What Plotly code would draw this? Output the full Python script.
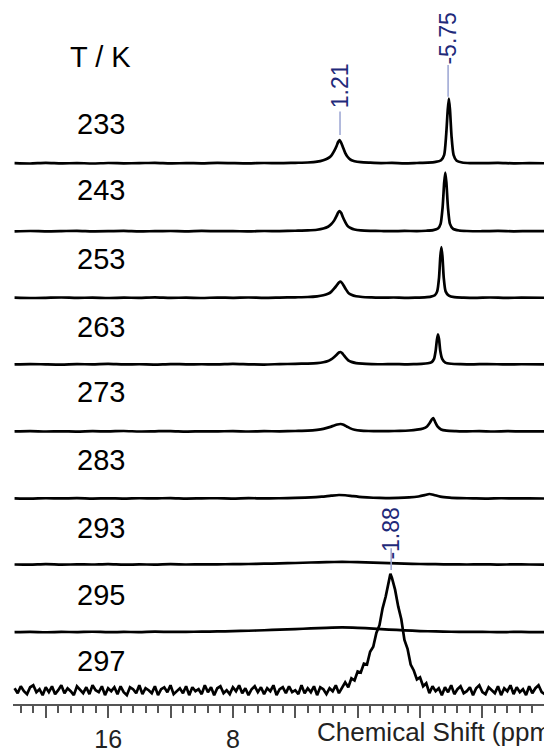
import plotly.graph_objects as go

# ---------------- data (ppm vs. intensity, arbitrary units) ----------------
temps = ["233", "243", "253", "263", "273", "283", "293", "295", "297"]

x233 = [22, 21, 20, 19, 18, 17, 16, 15, 14, 13, 12, 11, 10, 9, 8, 7, 6, 5, 4,
        3.2, 2.6, 2.2, 1.9, 1.7, 1.5, 1.35, 1.25, 1.16, 1.05, 0.95, 0.8, 0.65, 0.45, 0.2,
        -0.2, -0.8, -1.5, -2.2, -3, -3.8, -4.5, -5.0, -5.35, -5.55, -5.68, -5.78, -5.85,
        -5.92, -6.02, -6.15, -6.35, -6.7, -7.2, -8, -9, -10, -11, -12]
y233 = [0.5, 0.2, 0.8, 0.3, 0.6, 0.2, 0.7, 0.4, 0.5, 0.9, 0.3, 0.6, 0.4, 0.8, 0.5, 0.3, 0.7, 0.5, 0.9,
        1.2, 2, 3.5, 5.5, 8, 13, 18, 22, 24, 21, 17, 11, 7, 4, 2.5,
        1.5, 1, 0.6, 0.8, 0.4, 0.7, 1, 1.8, 3.5, 9, 30, 55, 66,
        55, 28, 9, 3, 1.2, 0.6, 0.5, 0.8, 0.3, 0.6, 0.4]

x243 = [22, 21, 20, 19, 18, 17, 16, 15, 14, 13, 12, 11, 10, 9, 8, 7, 6, 5, 4,
        3.2, 2.6, 2.2, 1.9, 1.7, 1.5, 1.35, 1.25, 1.16, 1.05, 0.95, 0.8, 0.65, 0.45, 0.2,
        -0.2, -0.8, -1.5, -2.2, -3, -3.8, -4.4, -4.85, -5.15, -5.32, -5.45, -5.55, -5.62,
        -5.69, -5.79, -5.92, -6.12, -6.5, -7, -8, -9, -10, -11, -12]
y243 = [0.3, 0.7, 0.4, 0.6, 0.9, 0.4, 0.5, 0.8, 0.3, 0.6, 0.7, 0.4, 0.8, 0.5, 0.6, 0.3, 0.7, 0.6, 1.0,
        1.3, 2, 3.2, 5, 7.5, 11.5, 16, 19.5, 21, 19, 15, 10, 6, 3.8, 2.3,
        1.4, 0.9, 0.7, 0.5, 0.8, 0.6, 1, 1.6, 3.2, 8, 25, 50, 60,
        50, 25, 8, 2.8, 1.2, 0.7, 0.5, 0.8, 0.4, 0.6, 0.5]

x253 = [22, 21, 20, 19, 18, 17, 16, 15, 14, 13, 12, 11, 10, 9, 8, 7, 6, 5, 4,
        3.2, 2.6, 2.2, 1.9, 1.7, 1.5, 1.3, 1.2, 1.1, 1.0, 0.9, 0.75, 0.6, 0.4, 0.1,
        -0.3, -0.9, -1.6, -2.3, -3, -3.7, -4.3, -4.7, -4.95, -5.1, -5.22, -5.3, -5.37,
        -5.44, -5.52, -5.64, -5.85, -6.2, -6.8, -7.6, -8.5, -9.5, -10.5, -12]
y253 = [0.6, 0.3, 0.5, 0.8, 0.4, 0.7, 0.3, 0.6, 0.5, 0.9, 0.4, 0.6, 0.3, 0.7, 0.5, 0.8, 0.4, 0.7, 1.0,
        1.3, 2, 3, 4.5, 6.5, 10, 14, 16, 17, 15.5, 13, 9, 5.5, 3.5, 2,
        1.3, 0.9, 0.6, 0.8, 0.5, 0.7, 1, 1.6, 3, 7, 21, 42, 52,
        42, 21, 7, 2.6, 1.1, 0.7, 0.5, 0.8, 0.4, 0.6, 0.5]

x263 = [22, 21, 20, 19, 18, 17, 16, 15, 14, 13, 12, 11, 10, 9, 8, 7, 6, 5, 4,
        3.2, 2.6, 2.2, 1.9, 1.7, 1.5, 1.3, 1.2, 1.1, 1.0, 0.9, 0.75, 0.6, 0.4, 0.1,
        -0.3, -0.9, -1.6, -2.3, -3, -3.6, -4.1, -4.5, -4.75, -4.9, -5.0, -5.08, -5.15,
        -5.22, -5.3, -5.42, -5.62, -6.0, -6.6, -7.4, -8.3, -9.5, -10.5, -12]
y263 = [0.4, 0.8, 0.5, 0.3, 0.7, 0.5, 0.9, 0.4, 0.6, 0.3, 0.8, 0.5, 0.6, 0.4, 0.9, 0.5, 0.3, 0.7, 1.0,
        1.3, 1.8, 2.6, 3.8, 5.5, 8, 11, 12.5, 13, 12, 10, 7, 4.5, 3, 1.8,
        1.2, 0.8, 0.6, 0.8, 0.5, 0.7, 1, 1.6, 2.8, 6, 14, 25, 31,
        26, 14, 6, 2.2, 1.1, 0.7, 0.5, 0.8, 0.4, 0.6, 0.5]

x273 = [22, 21, 20, 19, 18, 17, 16, 15, 14, 13, 12, 11, 10, 9, 8, 7, 6, 5, 4,
        3.2, 2.6, 2.2, 1.8, 1.5, 1.3, 1.1, 0.9, 0.7, 0.5, 0.2,
        -0.2, -0.7, -1.3, -2, -2.7, -3.3, -3.8, -4.2, -4.45, -4.62, -4.75, -4.85,
        -4.97, -5.12, -5.35, -5.7, -6.3, -7, -7.8, -8.7, -9.6, -10.5, -11.3, -12]
y273 = [0.5, 0.8, 0.4, 0.6, 0.3, 0.7, 0.5, 0.9, 0.4, 0.6, 0.8, 0.3, 0.6, 0.5, 0.8, 0.4, 0.7, 0.6, 0.9,
        1.2, 2, 3, 4.8, 6.5, 7.5, 8, 7.2, 5.5, 3.8, 2.2,
        1.3, 0.9, 0.7, 0.8, 1, 1.4, 2.2, 3.5, 5.5, 9, 12.5, 14,
        10, 5.5, 2.5, 1.3, 0.8, 0.5, 0.8, 0.4, 0.7, 0.5, 0.6, 0.5]

x283 = [22, 21, 20, 19, 18, 17, 16, 15, 14, 13, 12, 11, 10, 9, 8, 7, 6, 5, 4,
        3, 2.3, 1.7, 1.2, 0.8, 0.3, -0.3, -1, -1.8, -2.6, -3.3, -3.9,
        -4.3, -4.6, -4.9, -5.3, -5.9, -6.6, -7.4, -8.3, -9.2, -10.1, -11, -12]
y283 = [0.6, 0.3, 0.7, 0.5, 0.8, 0.4, 0.6, 0.3, 0.7, 0.5, 0.9, 0.4, 0.6, 0.7, 0.4, 0.8, 0.5, 0.7, 1.0,
        1.5, 2.3, 3.3, 4, 3.7, 2.8, 1.8, 1.2, 0.9, 1, 1.5, 2.5,
        3.8, 5, 4, 2.3, 1.3, 0.8, 0.6, 0.4, 0.7, 0.5, 0.6, 0.4]

x293 = [22, 21, 20, 19, 18, 17, 16, 15, 14, 13, 12, 11, 10, 9, 8, 7, 6, 5, 4,
        3, 2, 1, 0, -1, -2, -3, -4, -5, -6, -7, -8, -9, -10, -11, -12]
y293 = [0.5, 0.3, 0.8, 0.4, 0.6, 0.5, 0.9, 0.3, 0.6, 0.4, 0.8, 0.5, 0.7, 0.6, 0.9, 1.0, 1.3, 1.6, 2.0,
        2.5, 2.9, 3.1, 2.9, 2.4, 1.8, 1.3, 1.0, 0.8, 0.6, 0.5, 0.7, 0.4, 0.6, 0.5, 0.4]

x295 = [22, 21, 20, 19, 18, 17, 16, 15, 14, 13, 12, 11, 10, 9, 8, 7, 6, 5, 4,
        3, 2, 1, 0, -1, -2, -3, -4, -5, -6, -7, -8, -9, -10, -11, -12]
y295 = [0.4, 0.7, 0.3, 0.6, 0.5, 0.8, 0.4, 0.6, 0.5, 0.9, 0.6, 0.7, 0.9, 1.1, 1.4, 1.8, 2.3, 2.9, 3.5,
        4.2, 4.8, 5.2, 4.8, 4.0, 3.0, 2.2, 1.5, 1.1, 0.8, 0.6, 0.7, 0.4, 0.6, 0.5, 0.4]

x297 = [22.0, 21.8, 21.6, 21.4, 21.2, 21.0, 20.8, 20.6, 20.4, 20.2,
        20.0, 19.8, 19.6, 19.4, 19.2, 19.0, 18.8, 18.6, 18.4, 18.2,
        18.0, 17.8, 17.6, 17.4, 17.2, 17.0, 16.8, 16.6, 16.4, 16.2,
        16.0, 15.8, 15.6, 15.4, 15.2, 15.0, 14.8, 14.6, 14.4, 14.2,
        14.0, 13.8, 13.6, 13.4, 13.2, 13.0, 12.8, 12.6, 12.4, 12.2,
        12.0, 11.8, 11.6, 11.4, 11.2, 11.0, 10.8, 10.6, 10.4, 10.2,
        10.0, 9.8, 9.6, 9.4, 9.2, 9.0, 8.8, 8.6, 8.4, 8.2,
        8.0, 7.8, 7.6, 7.4, 7.2, 7.0, 6.8, 6.6, 6.4, 6.2,
        6.0, 5.8, 5.6, 5.4, 5.2, 5.0, 4.8, 4.6, 4.4, 4.2,
        4.0, 3.8, 3.6, 3.4, 3.2, 3.0, 2.8, 2.6, 2.4, 2.2,
        2.0, 1.8, 1.6, 1.4, 1.2,
        1.0, 0.8, 0.6, 0.4, 0.2, 0.0, -0.2, -0.4, -0.6, -0.8,
        -1.0, -1.2, -1.4, -1.6, -1.8, -2.0, -2.1, -2.2, -2.4, -2.6,
        -2.8, -3.0, -3.2, -3.4, -3.6, -3.8, -4.0, -4.2, -4.4,
        -4.6, -4.8, -5.0, -5.2, -5.4, -5.6, -5.8, -6.0, -6.2, -6.4,
        -6.6, -6.8, -7.0, -7.2, -7.4, -7.6, -7.8, -8.0, -8.2, -8.4,
        -8.6, -8.8, -9.0, -9.2, -9.4, -9.6, -9.8, -10.0, -10.2, -10.4,
        -10.6, -10.8, -11.0, -11.2, -11.4, -11.6, -11.8, -12.0]
y297 = [2, -3, 4, -1, -4, 3, 5, -2, 1, -5, 3, -2, 4, -4, 0,
        5, -3, 2, -1, -5, 4, 1, -3, 3, -4, 5, 0, -2, 4, -5,
        2, -1, 3, -4, 4, -2, -5, 3, 1, -3, 5, -4, 2, 0, -3,
        4, -5, 1, 3, -2, 5, -4, -1, 2, -3, 4, -5, 3, -1, 1,
        -4, 5, -2, 3, -5, 2, 4, -3, 0, -4, 3, -1, 5, -3, 2,
        -5, 1, 4, -2, 3, -4, 2, -1, 5, -5, 1, 3, -3, 4, -2,
        0, -4, 5, -3, 2, -2, 4, -5, 3, 1, -4, 2, -1, 5, -3,
        2, 8, 3, 12, 10, 19, 18, 27, 26, 39,
        44, 58, 66, 83, 95, 111, 118, 114, 102, 85,
        72, 51, 42, 26, 20, 11, 13, 4, 7,
        -3, 4, -1, 2, -5, 3, -2, 5, -4, 1,
        4, -3, -1, 3, -5, 2, 5, -2, -4, 3,
        0, -3, 4, -5, 2, -1, 5, -4, 3, -2,
        1, -5, 4, -3, 2, 5, -2, -4]

spectra = [(x233, y233), (x243, y243), (x253, y253), (x263, y263), (x273, y273),
           (x283, y283), (x293, y293), (x295, y295), (x297, y297)]
for xs, ys in spectra:
    assert len(xs) == len(ys), (len(xs), len(ys))

# peak annotations: label text and the shift at which the label is drawn
peak_labels = ["1.21", "-5.75", "-1.88"]
peak_label_ppm = [1.13, -5.80, -2.15]

# ---------------- layout helpers ----------------
W, H = 544, 753
PLOT_H = 715                       # plot area height in px (t=0, b=38)
row_base_px = [166, 235, 302.5, 370, 438, 506, 573, 641.5, 700]
row_label_px = [126, 193, 263, 332, 398, 467, 535, 603, 670]


def pap(px):
    return (PLOT_H - px) / PLOT_H


fig = go.Figure()
FONT = "Arial, Liberation Sans, sans-serif"

for i, (t, (xs, ys)) in enumerate(zip(temps, spectra)):
    suffix = "" if i == 0 else str(i + 1)
    base = row_base_px[i]
    fig.add_trace(go.Scatter(
        x=xs, y=ys, mode="lines",
        line=dict(color="black", width=2.7,
                  shape="linear" if t == "297" else "spline", smoothing=0.6),
        xaxis="x", yaxis="y" + suffix, showlegend=False, hoverinfo="skip"))
    fig.layout["yaxis" + suffix] = dict(
        domain=[max(0, pap(base + 12)), min(1, pap(base - 130))],
        range=[-12, 130], visible=False, fixedrange=True, anchor="x")
    fig.add_annotation(text=t, xref="paper", yref="paper",
                       x=(101 - 13) / 531, y=pap(row_label_px[i]),
                       xanchor="center", yanchor="middle", showarrow=False,
                       font=dict(family=FONT, size=29, color="black"))

fig.add_annotation(text="T / K", xref="paper", yref="paper",
                   x=(100 - 13) / 531, y=pap(58), xanchor="center", yanchor="middle",
                   showarrow=False, font=dict(family=FONT, size=29, color="black"))

# peak labels (rotated) and their guide lines
label_center_px = [87.5, 39, 541]
guide_px = [(113, 137), (66, 98), (556, 578)]
for lab, ppm, cy, (g0, g1) in zip(peak_labels, peak_label_ppm, label_center_px, guide_px):
    fig.add_annotation(text=lab, xref="x", yref="paper", x=ppm, y=pap(cy),
                       textangle=-90, xanchor="center", yanchor="middle", showarrow=False,
                       font=dict(family=FONT, size=23, color="#1F2A7A"))
    fig.add_shape(type="line", xref="x", yref="paper", x0=ppm, x1=ppm,
                  y0=pap(g0), y1=pap(g1), line=dict(color="#9AA4D2", width=1.5))

# axis title (partially cut by the right edge as in the original)
fig.add_annotation(text="Chemical Shift (ppm)", xref="paper", yref="paper",
                   x=(315 - 13) / 531, y=0, yshift=-27, xanchor="left", yanchor="middle",
                   showarrow=False, font=dict(family=FONT, size=26, color="#222"))

fig.update_layout(
    width=W, height=H, margin=dict(l=13, r=0, t=0, b=H - PLOT_H),
    paper_bgcolor="white", plot_bgcolor="rgba(0,0,0,0)", hovermode=False, showlegend=False,
    xaxis=dict(range=[22.1, -11.95], anchor="free", position=0,
               showline=True, linecolor="#555", linewidth=2,
               ticks="outside", ticklen=12, tickwidth=2, tickcolor="#555",
               tickmode="array", tickvals=[20, 16, 12, 8, 4, 0, -4, -8],
               ticktext=["", "16", "", "8", "", "", "", ""],
               tickfont=dict(family=FONT, size=25, color="#222"),
               showgrid=False, zeroline=False, fixedrange=True,
               minor=dict(tickmode="linear", tick0=0, dtick=0.8, ticks="outside",
                          ticklen=7, tickwidth=2, tickcolor="#555", showgrid=False)),
)

fig.write_html("out.html", config={"displayModeBar": False})
